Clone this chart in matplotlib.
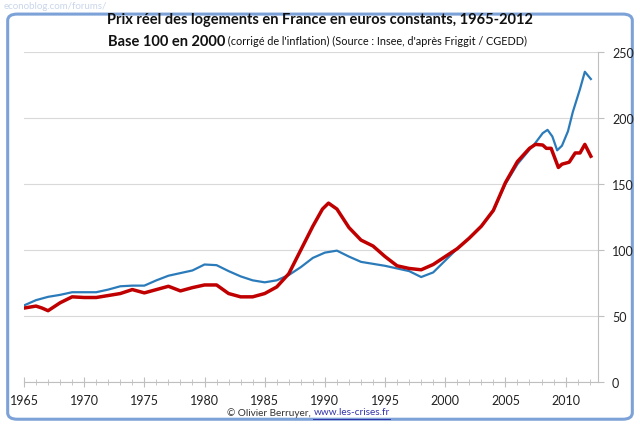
import matplotlib
matplotlib.use("Agg")
import matplotlib.pyplot as plt
from matplotlib.patches import FancyBboxPatch
from matplotlib.lines import Line2D
from matplotlib.ticker import MultipleLocator

plt.rcParams['font.family'] = ['Lato', 'DejaVu Sans']

# prix reel (bleu)
years_blue = [1965, 1966, 1967, 1968, 1969, 1970, 1971, 1972, 1973, 1974, 1975,
              1976, 1977, 1978, 1979, 1980, 1981, 1982, 1983, 1984, 1985, 1986,
              1987, 1988, 1989, 1990, 1991, 1992, 1993, 1994, 1995, 1996, 1997,
              1998, 1999, 2000, 2001, 2002, 2003, 2004, 2005, 2006, 2007, 2007.4,
              2008.1, 2008.5, 2008.9, 2009.3, 2009.7, 2010.2, 2010.6, 2011.2,
              2011.6, 2012.1]
blue = [58, 62, 64.5, 66, 68, 68, 68, 70, 72.5, 73, 73,
        77, 80.5, 82.5, 84.5, 89, 88.5, 84, 80, 77, 75.5, 77,
        81, 87, 94, 98, 99.5, 95, 91, 89.5, 88, 86, 84,
        79.5, 83, 92, 101, 109, 118, 130, 150, 165, 176, 180,
        188.5, 191, 186, 175.5, 179, 190, 204.5, 222,
        235, 229.5]

# prix reel (rouge)
years_red = [1965, 1966, 1966.5, 1967, 1968, 1969, 1970, 1971, 1972, 1973, 1974,
             1975, 1976, 1977, 1978, 1979, 1980, 1981, 1982, 1983, 1984, 1985,
             1986, 1987, 1988, 1989, 1989.8, 1990.3, 1991, 1992, 1993, 1994, 1995,
             1996, 1997, 1998, 1999, 2000, 2001, 2002, 2003, 2004, 2005, 2006,
             2007, 2007.5, 2008.1, 2008.4, 2008.8, 2009.4, 2009.7, 2010.3, 2010.8,
             2011.2, 2011.6, 2012.1]
red = [56, 57.5, 56, 54, 60, 64.5, 64, 64, 65.5, 67, 70,
       67.5, 70, 72.5, 69, 71.5, 73.5, 73.5, 67, 64.5, 64.5, 67,
       72, 82, 100, 118, 131, 135.5, 131, 117, 107.5, 103, 95,
       88, 86, 85, 89, 95, 101, 109, 118, 130, 151, 167,
       177, 180, 179.5, 177, 177, 162.5, 165, 166.5, 173.5,
       173.5, 180, 171]

fig = plt.figure(figsize=(6.4, 4.31), dpi=100)
fig.patch.set_facecolor('white')

# cadre arrondi
frame = FancyBboxPatch((0.012, 0.025), 0.976, 0.94, boxstyle="round,pad=0,rounding_size=0.015",
                       transform=fig.transFigure, facecolor='none', edgecolor='#7da2d8',
                       linewidth=2.2, zorder=-1)
fig.patches.append(frame)

ax = fig.add_axes([0.0375, 0.1114, 0.897, 0.7657])
ax.patch.set_alpha(0)
ax.plot(years_blue, blue, color='#2b7bba', lw=1.6, zorder=3, solid_joinstyle='round')
ax.plot(years_red, red, color='#c00000', lw=2.5, zorder=4, solid_joinstyle='round')

ax.set_xlim(1965, 2012.7)
ax.set_ylim(0, 250)
ax.yaxis.tick_right()
ax.yaxis.set_major_locator(MultipleLocator(50))
ax.xaxis.set_major_locator(MultipleLocator(5))
ax.xaxis.set_minor_locator(MultipleLocator(1))
ax.grid(axis='y', color='#d9d9d9', lw=0.8)
ax.set_axisbelow(True)
for s in ['top', 'left']:
    ax.spines[s].set_visible(False)
ax.spines['right'].set_color('#bfbfbf')
ax.spines['bottom'].set_color('#bfbfbf')
ax.tick_params(axis='y', which='major', direction='out', length=4, color='#bfbfbf',
               labelsize=9, pad=6, labelcolor='#222222')
ax.tick_params(axis='x', which='major', direction='inout', length=7, color='#bfbfbf',
               labelsize=9, pad=5, labelcolor='#222222')
ax.tick_params(axis='x', which='minor', direction='inout', length=4, color='#bfbfbf')

# titres
fig.text(0.5, 0.953, "Prix réel des logements en France en euros constants, 1965-2012",
         ha='center', va='center', fontsize=10.5, fontweight='bold', color='#111111')

fig.canvas.draw()
r = fig.canvas.get_renderer()
t1 = fig.text(0, 0.903, "Base 100 en 2000", ha='left', va='center', fontsize=10.5,
              fontweight='bold', color='#111111')
t2 = fig.text(0, 0.903, " (corrigé de l'inflation) (Source : Insee, d'après Friggit / CGEDD)",
              ha='left', va='center', fontsize=7.8, color='#111111')
w1 = t1.get_window_extent(r).width / fig.bbox.width
w2 = t2.get_window_extent(r).width / fig.bbox.width
x0 = 0.5 - (w1 + w2) / 2 - 0.004
t1.set_x(x0)
t2.set_x(x0 + w1)

# pied
f1 = fig.text(0, 0.042, "© Olivier Berruyer, ", ha='left', va='center', fontsize=7.2,
              color='#333333')
f2 = fig.text(0, 0.042, "www.les-crises.fr", ha='left', va='center', fontsize=7.2,
              color='#3333aa')
g1 = f1.get_window_extent(r).width / fig.bbox.width
g2 = f2.get_window_extent(r).width / fig.bbox.width
x1 = 0.482 - (g1 + g2) / 2
f1.set_x(x1)
f2.set_x(x1 + g1)
fig.lines.append(Line2D([x1 + g1, x1 + g1 + g2], [0.026, 0.026], transform=fig.transFigure,
                        color='#3333aa', lw=0.7))

# filigrane
fig.text(0.005, 0.985, "econoblog.com/forums/", ha='left', va='center', fontsize=7,
         color='#c9d6ea', zorder=5)

fig.savefig('out.png', dpi=100)
